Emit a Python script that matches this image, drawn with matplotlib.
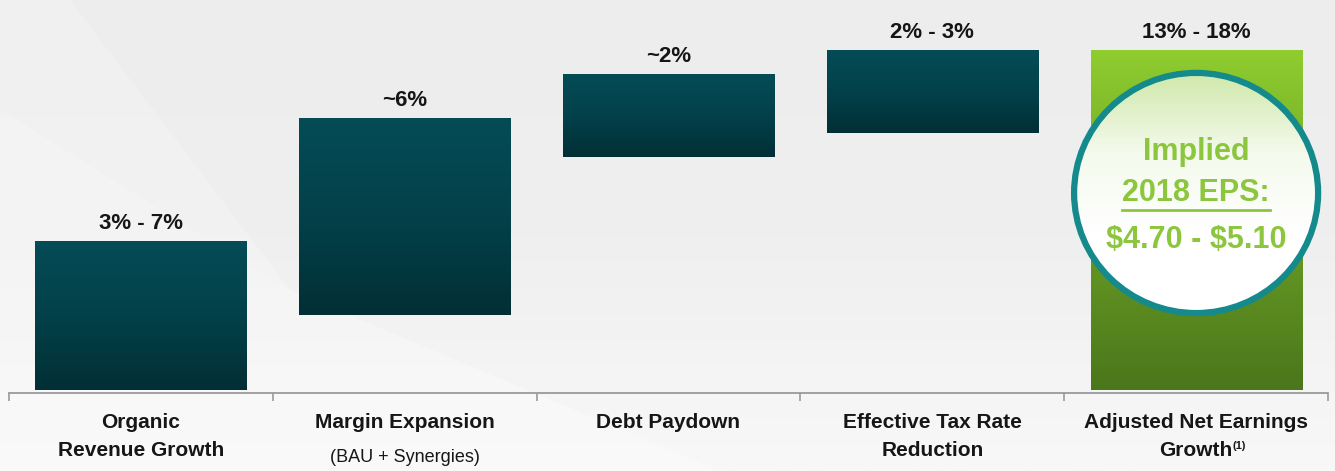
import numpy as np
import matplotlib
matplotlib.use("Agg")
import matplotlib.pyplot as plt
from matplotlib.colors import LinearSegmentedColormap
from matplotlib.patches import Ellipse, Polygon
from matplotlib.lines import Line2D
from matplotlib import font_manager

# bridge steps, bars float between a low and a high value (growth %, schematic)
categories = ["Organic\nRevenue Growth", "Margin Expansion", "Debt Paydown",
              "Effective Tax Rate\nReduction", "Adjusted Net Earnings\nGrowth"]
sub_labels = ["", "(BAU + Synergies)", "", "", ""]
bar_low = [0.0, 3.4, 10.6, 11.7, 0.0]
bar_high = [6.8, 12.4, 14.4, 15.5, 15.5]
value_labels = ["3% - 7%", "~6%", "~2%", "2% - 3%", "13% - 18%"]
eps_lines = ["Implied", "2018 EPS:", r"\$4.70 - \$5.10"]

names = {f.name for f in font_manager.fontManager.ttflist}
narrow = "Liberation Sans Narrow" if "Liberation Sans Narrow" in names else "Liberation Sans"
plt.rcParams["font.family"] = [narrow, "DejaVu Sans"]

fig = plt.figure(figsize=(13.35, 4.71), dpi=100)

# slide background: soft grey with faint diagonal bands in the top-left
bg = fig.add_axes([0, 0, 1, 1], zorder=0)
bg.set_xlim(0, 1335)
bg.set_ylim(471, 0)
bg.axis("off")
vgrad = np.linspace(0, 1, 256).reshape(-1, 1)
bg_cmap = LinearSegmentedColormap.from_list("bg", ["#ededed", "#efefef", "#f8f8f8"])
bg.imshow(vgrad, extent=[0, 1335, 471, 0], origin="upper", cmap=bg_cmap, aspect="auto")
bg.add_patch(Polygon([[0, 0], [70, 0], [290, 290], [0, 109]],
                     closed=True, color="white", alpha=0.22, lw=0))
bg.add_patch(Polygon([[0, 109], [290, 290], [720, 471], [0, 471]],
                     closed=True, color="white", alpha=0.3, lw=0))

ax = fig.add_axes([9 / 1335, 78 / 471, 1319 / 1335, 393 / 471], zorder=1)
ax.patch.set_alpha(0)

x = np.arange(len(categories))
heights = np.array(bar_high) - np.array(bar_low)
bars = ax.bar(x, heights, bottom=bar_low, width=0.8, color="none", lw=0, zorder=2)

teal = LinearSegmentedColormap.from_list("teal", ["#022f35", "#03414a", "#044c56"])
green = LinearSegmentedColormap.from_list("green", ["#4b761c", "#6a9f24", "#8fcd2f"])
for i, bar in enumerate(bars):
    bx, by = bar.get_x(), bar.get_y()
    cmap = green if i == len(bars) - 1 else teal
    im = ax.imshow(vgrad, extent=[bx, bx + bar.get_width(), by, by + bar.get_height()],
                   origin="lower", cmap=cmap, aspect="auto", zorder=2)
    im.set_clip_path(bar)
    ax.annotate(value_labels[i], (x[i], bar_high[i]), xytext=(0, 5),
                textcoords="offset points", ha="center", va="bottom",
                fontsize=16, fontweight="bold", color="#161616", zorder=3)

ax.set_xlim(-0.5, len(categories) - 0.5)
ax.set_ylim(-0.14, 17.78)

# category labels under the axis
tr = ax.get_xaxis_transform()
growth = None
for i, cat in enumerate(categories):
    lines = cat.split("\n")
    for j, line in enumerate(lines):
        t = ax.text(x[i], -0.074 - 0.072 * j, line, transform=tr, ha="center", va="center",
                    fontsize=15, fontweight="bold", color="#161616")
        if i == len(categories) - 1 and j == 1:
            growth = t
    if sub_labels[i]:
        ax.text(x[i], -0.165, sub_labels[i], transform=tr, ha="center", va="center",
                fontsize=13, color="#161616")
ax.annotate("(1)", xy=(1.0, 1.0), xycoords=growth, ha="left", va="top",
            fontsize=8, fontweight="bold", color="#161616")

for s in ["top", "right", "left"]:
    ax.spines[s].set_visible(False)
ax.spines["bottom"].set_color("#9a9a9a")
ax.spines["bottom"].set_linewidth(1.3)
ax.set_yticks([])
ax.set_xticks(np.arange(-0.5, len(categories), 1.0))
ax.tick_params(axis="x", length=6, width=1.2, color="#9a9a9a", labelbottom=False)

# implied EPS badge over the last bar
cx, cy = x[-1], 8.98
badge = Ellipse((cx, cy), 0.925, 10.95, facecolor="none", edgecolor="#148a8c",
                lw=4.5, zorder=5)
fill = Ellipse((cx, cy), 0.925, 10.95, facecolor="white", lw=0, zorder=4)
ax.add_patch(fill)
ax.add_patch(badge)
badge_cmap = LinearSegmentedColormap.from_list("badge", ["#ffffff", "#ffffff", "#f4faec", "#cfe8aa"])
bim = ax.imshow(vgrad, extent=[cx - 0.47, cx + 0.47, cy - 5.5, cy + 5.5], origin="lower",
                cmap=badge_cmap, aspect="auto", zorder=4)
bim.set_clip_path(fill)

eps_y = [cy + 1.85, cy, cy - 2.15]
eps_txt = []
for yy, line in zip(eps_y, eps_lines):
    eps_txt.append(ax.text(cx, yy, line, ha="center", va="center", fontsize=22,
                           fontweight="bold", color="#8cc63f", zorder=6))

fig.canvas.draw()
bb = eps_txt[1].get_window_extent()
fig.add_artist(Line2D([bb.x0, bb.x1], [bb.y0 - 2, bb.y0 - 2], transform=None,
                      color="#8cc63f", lw=2, zorder=7))

fig.savefig("out.png", dpi=100)
